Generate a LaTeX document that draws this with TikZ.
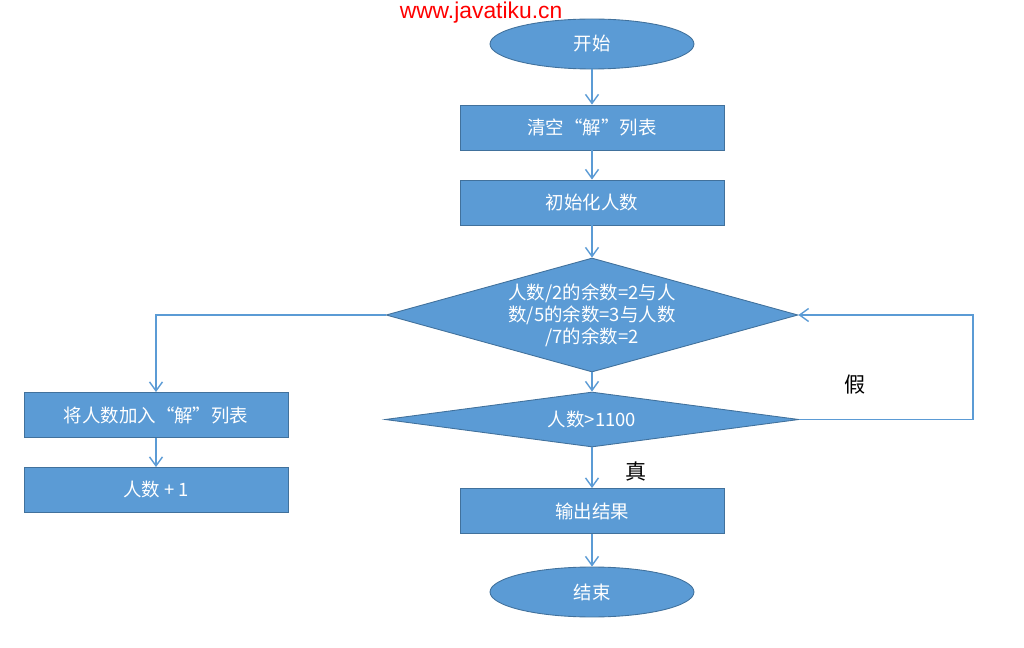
\documentclass[tikz,border=0pt]{standalone}
\usepackage{fontspec}
\setmainfont{Noto Sans CJK SC}
\newfontfamily\urlfont{Liberation Sans}
\usetikzlibrary{arrows.meta,positioning,shapes.geometric}
\definecolor{boxblue}{HTML}{5B9BD5}
\definecolor{edgeblue}{HTML}{41719C}

\begin{document}
\begin{tikzpicture}[x=0.02cm, y=-0.02cm,
  font=\fontsize{10.5}{12.5}\selectfont,
  >={Straight Barb[length=1.8mm, width=2.6mm]},
  box/.style={draw=edgeblue, fill=boxblue, text=white, line width=0.5pt,
    minimum width=5.28cm, minimum height=0.9cm, inner sep=2pt},
  term/.style={ellipse, draw=edgeblue, fill=boxblue, text=white, line width=0.5pt,
    minimum width=4.08cm, minimum height=1.0cm, inner sep=0pt},
  test/.style={diamond, draw=edgeblue, fill=boxblue, text=white, line width=0.5pt,
    inner sep=0pt, align=center},
  flow/.style={->, draw=boxblue, line width=0.8pt},
  lab/.style={font=\fontsize{12}{14}\selectfont}]
\useasboundingbox (0,0) rectangle (1024,648);
\node[text=red, font=\urlfont\fontsize{13}{15}\selectfont] (url) at (481,13) {www.javatiku.cn};
\node[term] (start) at (592,44) {开始};
\node[box] (clear) at (592,127.5) {清空“解”列表};
\node[box] (init) at (592,202.5) {初始化人数};
\node[test, aspect=3.6, minimum width=8.24cm, minimum height=2.28cm] (cond) at (592,315)
  {人数/2的余数=2与人\\数/5的余数=3与人数\\/7的余数=2};
\node[test, aspect=7.5, minimum width=8.28cm, minimum height=1.1cm] (cmp) at (592,419.5) {人数>1100};
\node[box] (out) at (592,511) {输出结果};
\node[term] (stop) at (592,592) {结束};
\node[box] (add) at (156,415) {将人数加入“解”列表};
\node[box] (inc) at (156,490) {人数 + 1};
\node[lab] (no) at (855,385) {假};
\node[lab] (yes) at (636,471) {真};
\coordinate (loop) at (973,419.5);
\draw[flow] (start) -- (clear);
\draw[flow] (clear) -- (init);
\draw[flow] (init) -- (cond);
\draw[flow] (cond) -- (cmp);
\draw[flow] (cmp) -- (out);
\draw[flow] (out) -- (stop);
\draw[flow] (cond.west) -| (add.north);
\draw[flow] (add) -- (inc);
\draw[flow] (cmp.east) -- (loop) |- (cond.east);
\end{tikzpicture}
\end{document}
